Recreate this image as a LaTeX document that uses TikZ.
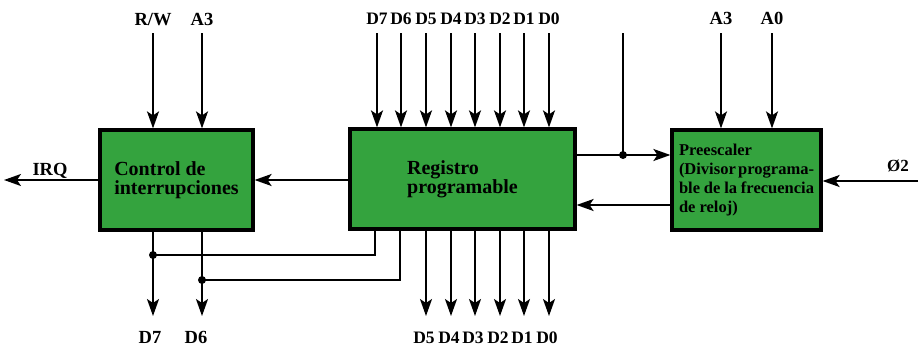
\documentclass[tikz,border=0pt]{standalone}
\usepackage{fontspec}
\setmainfont{Liberation Serif}
\usetikzlibrary{arrows.meta}
\definecolor{boxgreen}{RGB}{52,163,62}
\begin{document}
\begin{tikzpicture}[x=1pt,y=-1pt,
  box/.style={draw=black, line width=3.2pt, fill=boxgreen, inner sep=0pt},
  wire/.style={line width=1.8pt, black},
  arr/.style={wire, -{Stealth[length=17pt,width=12pt,inset=4pt]}},
  lbl/.style={font=\fontsize{18.5}{20}\selectfont\bfseries, inner sep=0pt, anchor=base},
  dlbl/.style={lbl, font=\fontsize{17.5}{20}\selectfont\bfseries},
  txt/.style={font=\fontsize{20}{19}\selectfont\bfseries, align=left},
  dot/.style={circle, fill=black, inner sep=0pt, minimum size=8pt}]
\useasboundingbox (0,0) rectangle (922,348);
% boxes
\node[box, txt, minimum width=153pt, minimum height=100pt] (ctrl) at (176.5,180) {Control de\\interrupciones};
\node[box, txt, minimum width=225pt, minimum height=100pt] (reg) at (462.5,179) {Registro\\programable};
\node[box, minimum width=149pt, minimum height=100pt] (pre) at (746.5,180)
  {\parbox{135pt}{\fontsize{16.5}{18.7}\selectfont\bfseries
   Preescaler\\
   (Divisor\hfill programa-\\
   ble\hfill de\hfill la\hfill frecuencia\\
   de reloj)}};
% inputs of the control box
\node[lbl] (rw) at (153,25) {R/W};
\node[lbl] (a3c) at (202,25) {A3};
\draw[arr] ([yshift=-8pt]rw.base) -- (rw |- ctrl.north);
\draw[arr] ([yshift=-8pt]a3c.base) -- (a3c |- ctrl.north);
% IRQ
\coordinate (irq) at (4,180);
\node[lbl] (irqt) at (50,175) {IRQ};
\draw[arr] (ctrl.west) -- (irq);
% register -> control
\draw[arr] (reg.west |- ctrl) -- (ctrl.east);
% data bus in
\foreach \n/\x in {7/377,6/401,5/426,4/451,3/475,2/500,1/524,0/549} {
  \node[dlbl] (t\n) at (\x,24) {D\n};
  \draw[arr] ([yshift=-9pt]t\n.base) -- (t\n |- reg.north);
}
% data bus out
\foreach \n/\x in {5/426,4/451,3/475,2/500,1/524,0/549} {
  \coordinate (o\n) at (\x,316);
  \node[dlbl] (b\n) at (\x-2,343) {D\n};
  \draw[arr] (o\n |- reg.south) -- (o\n);
}
% D7 D6 out of the control box
\coordinate (o7) at (153,316);
\coordinate (o6) at (202,316);
\node[lbl] (b7) at (150,343) {D7};
\node[lbl] (b6) at (196,343) {D6};
\draw[arr] (o7 |- ctrl.south) -- (o7);
\draw[arr] (o6 |- ctrl.south) -- (o6);
\node[dot] (d7) at (153,255) {};
\node[dot] (d6) at (202,280) {};
\draw[wire] (d7.center) -- (375,255) -- (375,229);
\draw[wire] (d6.center) -- (400,280) -- (400,229);
% register <-> prescaler
\node[dot] (dr) at (623,155) {};
\coordinate (top) at (623,33);
\draw[wire] (top) -- (dr.center);
\draw[arr] (reg.east |- dr) -- (pre.west |- dr);
\coordinate (back) at (672,205);
\draw[arr] (back) -- (reg.east |- back);
% prescaler inputs
\node[lbl] (a3p) at (721,24) {A3};
\node[lbl] (a0p) at (772,24) {A0};
\draw[arr] ([yshift=-9pt]a3p.base) -- (a3p |- pre.north);
\draw[arr] ([yshift=-9pt]a0p.base) -- (a0p |- pre.north);
\coordinate (clk) at (918,181);
\node[lbl, font=\fontsize{17}{18}\selectfont\bfseries] (clkt) at (898,171) {Ø2};
\draw[arr] (clk) -- (pre.east |- clk);
\end{tikzpicture}
\end{document}
